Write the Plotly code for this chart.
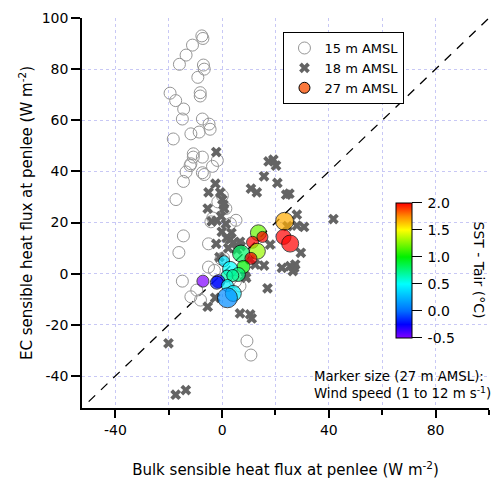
#EC vs bulk sensible heat flux at penlee, three measurement heights
#%%
import plotly.graph_objects as go

#%%
#15 m AMSL (open grey circles)
x_15m = [-7.6, -7.2, -11.1, -13.5, -16.0, -7.0, -6.7, -9.1, -19.5, -8.2, -8.2, -17.4, -14.4, -14.9, -7.4, -4.9, -4.5, -11.7,
         -8.6, -18.3, -10.8, -10.8, -7.4, -1.8, -11.7, -12.0, -3.6, -13.5, -7.4, -6.7, -14.5, -17.3, 0.1, -1.6, 1.4, -3.5,
         3.1, 5.2, -4.2, -14.5, -5.1, -16.2, -5.1, -2.9, -14.9, -9.5, -11.7, -8.1, 6.7, 9.3, 10.8, -0.4, 0.5, 5.0]
y_15m = [93.0, 92.0, 89.4, 85.5, 81.9, 81.6, 80.0, 76.8, 70.6, 70.8, 69.5, 67.7, 64.4, 60.5, 60.5, 58.5, 56.5, 54.7,
         55.4, 52.7, 46.9, 45.6, 45.6, 44.3, 43.0, 42.3, 42.0, 39.8, 39.5, 38.8, 36.1, 29.0, 30.5, 28.1, 25.5, 21.8,
         19.6, 20.9, 20.3, 14.8, 11.7, 8.3, 2.6, 1.3, -2.9, -6.4, -9.0, -10.3, -4.8, -26.3, -31.8, 5.8, 6.2, -3.0]

#18 m AMSL (grey crosses)
x_18m = [-2.2, -2.5, -5.1, -0.7, 15.7, 10.8, 13.0, 17.4, 19.2, 20.2, 20.7, 0.1, -5.4, 0.8, -0.4, -3.9, -2.0, 1.4,
         -0.1, 1.7, 3.0, 4.2, 6.7, -2.2, 18.0, 15.7, 9.0, 17.0, -2.6, -5.4, 6.7, 10.5, 11.1, -20.1, -17.4, -13.6,
         24.0, 25.2, 28.0, 24.5, 28.0, 30.7, 41.7, 29.5, 22.4, 25.5, 27.4, 27.0, 26.5, 12.4, 10.5, 8.6, 2.3, 5.5,
         7.0, -1.0, 3.5, 0.5]
y_18m = [47.6, 35.2, 31.8, 31.8, 38.1, 33.3, 31.8, 43.9, 44.6, 42.3, 35.5, 29.0, 25.5, 25.5, 22.5, 20.5, 20.8, 19.5,
         16.4, 14.0, 13.4, 12.1, 12.5, 11.7, 11.4, 3.2, -1.6, -5.7, -9.4, -12.9, -15.5, -15.9, -17.5, -27.2, -47.3, -45.5,
         30.9, 31.3, 23.1, 18.6, 18.8, 18.3, 21.4, 8.2, 2.3, 3.0, 3.6, 2.3, 1.0, 3.6, 5.6, -0.9, 10.0, 9.5,
         10.8, 6.5, 16.0, 27.0]

#27 m AMSL (coloured by SST - Tair, sized by wind speed)
x_27m = [23.4, 23.0, 25.5, 13.6, 11.4, 15.1, 13.2, 7.1, 10.8, 8.0, 0.75, 3.0, 6.1, 1.8, 4.0, -7.2, -1.4, -2.0, 2.0, 4.2, 2.0]
y_27m = [20.5, 14.4, 11.8, 16.0, 12.3, 14.4, 8.8, 7.9, 6.0, 2.7, 4.9, 1.9, -0.3, -0.9, -0.7, -2.9, -2.9, -3.5, -4.6, -7.7, -9.4]
dT_27m = [1.68, 2.0, 2.0, 1.2, 2.0, 2.0, 1.3, 0.8, 2.0, 1.0, 0.4, 0.5, 0.75, 0.65, 0.7, -0.5, -0.3, -0.2, 0.45, 0.45, 0.1]
wind_27m = [9, 6, 8, 7, 3, 2, 7, 8, 3, 4, 2, 6, 5, 3, 3, 3, 4, 4, 3, 7, 11]

#1:1 line
one_to_one = [-50, 100]

#tick labels
y_ticks = [-40, -20, 0, 20, 40, 60, 80, 100]
y_ticklabels = ['-40', '-20', '0', '20', '40', '60', '80', '100']
x_ticks = [-40, 0, 40, 80]
x_ticklabels = ['-40', '0', '40', '80']
cb_ticks = [-0.5, 0.0, 0.5, 1.0, 1.5, 2.0]
cb_ticklabels = ['-0.5', '0.0', '0.5', '1.0', '1.5', '2.0']

#%%
FONT = 'DejaVu Sans'
rainbow = [[0.0, 'rgb(128,0,255)'], [0.1, 'rgb(0,0,255)'], [0.2, 'rgb(0,110,255)'], [0.4, 'rgb(0,255,255)'],
           [0.6, 'rgb(0,240,0)'], [0.8, 'rgb(255,255,0)'], [0.9, 'rgb(255,140,0)'], [1.0, 'rgb(255,0,0)']]
grid_col = 'rgb(200,200,245)'

fig = go.Figure()

fig.add_trace(go.Scatter(x=one_to_one, y=one_to_one, mode='lines', showlegend=False, hoverinfo='skip',
                         line=dict(color='black', width=1.3, dash='9px,8px')))

fig.add_trace(go.Scatter(x=x_15m, y=y_15m, mode='markers', name='15 m AMSL',
                         marker=dict(symbol='circle-open', size=12, color='rgb(150,150,150)', line=dict(width=1))))

fig.add_trace(go.Scatter(x=x_18m, y=y_18m, mode='markers', name='18 m AMSL',
                         marker=dict(symbol='x', size=9.5, color='rgb(100,100,100)', line=dict(width=0))))

#marker diameter from wind speed (1 to 12 m/s)
sizes = [9 + w for w in wind_27m]
fig.add_trace(go.Scatter(x=x_27m, y=y_27m, mode='markers', showlegend=False,
                         marker=dict(size=sizes, color=dT_27m, colorscale=rainbow, cmin=-0.5, cmax=2.0,
                                     line=dict(color='black', width=1),
                                     colorbar=dict(x=0.772, xanchor='left', y=0.353, yanchor='middle',
                                                   len=0.347, thickness=16, xpad=0, ypad=0,
                                                   outlinecolor='black', outlinewidth=1,
                                                   ticks='outside', ticklen=10, tickcolor='black',
                                                   tickmode='array', tickvals=cb_ticks,
                                                   ticktext=['\u2009' + t for t in cb_ticklabels],
                                                   tickfont=dict(family=FONT, size=14, color='black')))))

#legend entry for 27 m
fig.add_trace(go.Scatter(x=[None], y=[None], mode='markers', name='27 m AMSL',
                         marker=dict(size=11, color='rgb(250,120,60)', line=dict(color='black', width=1))))

#page body has an 8px margin, so the figure is 8px smaller than the window
fig.update_layout(
    width=494, height=473,
    margin=dict(l=74, r=13, t=10, b=73, autoexpand=False),
    plot_bgcolor='white', paper_bgcolor='white',
    font=dict(family=FONT, size=14, color='black'),
    legend=dict(x=0.495, y=0.964, xanchor='left', yanchor='top', bgcolor='white',
                bordercolor='black', borderwidth=1, font=dict(family=FONT, size=13),
                tracegroupgap=0, itemwidth=30),
    annotations=[
        dict(text='Marker size (27 m AMSL):<br>Wind speed (1 to 12 m s<sup>-1</sup>)', xref='paper', yref='paper',
             x=0.566, y=0.012, xanchor='left', yanchor='bottom', align='left', showarrow=False,
             font=dict(family=FONT, size=13.3)),
        dict(text='SST - Tair (\u00b0C)', xref='paper', yref='paper', x=0.975, y=0.353, textangle=90,
             xanchor='center', yanchor='middle', showarrow=False, font=dict(family=FONT, size=14)),
    ],
)

fig.update_xaxes(range=[-52.5, 100], showline=True, linecolor='black', linewidth=1.5, zeroline=False,
                 tickmode='array', tickvals=x_ticks, ticktext=x_ticklabels,
                 ticks='outside', ticklen=8, tickwidth=1.5, tickcolor='black',
                 showgrid=True, gridcolor=grid_col, griddash='dot', gridwidth=1,
                 minor=dict(tick0=0, dtick=20, ticks='outside', ticklen=5, tickwidth=1.5, tickcolor='black',
                            showgrid=True, gridcolor=grid_col, griddash='dot', gridwidth=1),
                 title=dict(text='Bulk sensible heat flux at penlee (W m<sup>-2</sup>)', standoff=28,
                            font=dict(size=15)))

fig.update_yaxes(range=[-52.5, 100], showline=True, linecolor='black', linewidth=1.5, zeroline=False,
                 tickmode='array', tickvals=y_ticks, ticktext=y_ticklabels,
                 ticks='outside', ticklen=9, tickwidth=1.5, tickcolor='black',
                 showgrid=True, gridcolor=grid_col, griddash='dot', gridwidth=1,
                 title=dict(text='EC sensible heat flux at penlee (W m<sup>-2</sup>)', standoff=5,
                            font=dict(size=15)))

fig.write_html("out.html")
